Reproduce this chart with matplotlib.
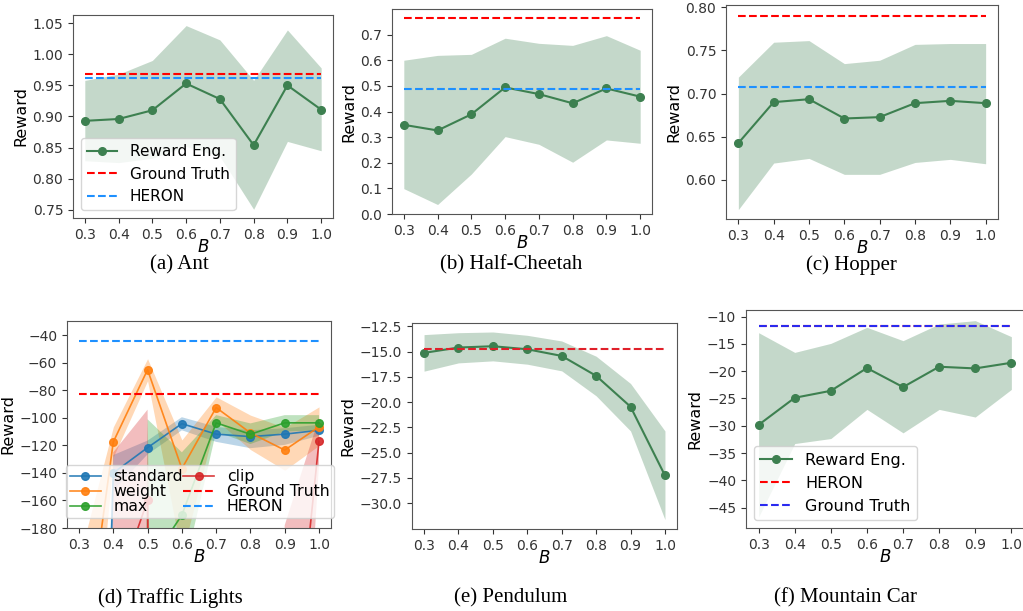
import numpy as np
import matplotlib
matplotlib.use("Agg")
import matplotlib.pyplot as plt

# x values shared by every panel
B = [0.3, 0.4, 0.5, 0.6, 0.7, 0.8, 0.9, 1.0]

# (a) Ant
ant_mean = [0.893, 0.896, 0.910, 0.953, 0.928, 0.854, 0.950, 0.911]
ant_hi = [0.958, 0.968, 0.990, 1.046, 1.023, 0.958, 1.039, 0.978]
ant_lo = [0.829, 0.826, 0.833, 0.852, 0.836, 0.751, 0.860, 0.845]
ant_gt = 0.968
ant_heron = 0.962

# (b) Half-Cheetah
hc_mean = [0.348, 0.326, 0.389, 0.494, 0.468, 0.432, 0.490, 0.458]
hc_hi = [0.600, 0.619, 0.623, 0.686, 0.666, 0.658, 0.696, 0.639]
hc_lo = [0.099, 0.037, 0.156, 0.302, 0.272, 0.202, 0.289, 0.276]
hc_gt = 0.765
hc_heron = 0.486

# (c) Hopper
hop_mean = [0.6425, 0.690, 0.6934, 0.671, 0.6726, 0.6888, 0.6915, 0.6888]
hop_hi = [0.719, 0.7595, 0.7614, 0.7347, 0.7386, 0.757, 0.758, 0.758]
hop_lo = [0.5653, 0.6193, 0.6247, 0.6062, 0.6062, 0.620, 0.6236, 0.6185]
hop_gt = 0.790
hop_heron = 0.7073

# (d) Traffic Lights
tl_names = ["standard", "weight", "max", "clip"]
tl_mean = [
    [-1000, -140.0, -121.6, -104.2, -111.8, -113.6, -111.8, -109.0],
    [-301, -117.5, -65.0, -136.9, -92.5, -110.9, -123.4, -106.5],
    [-2500, -2500, -208, -170.6, -103.6, -111.9, -103.6, -103.6],
    [-2500, -231, -160, -2500, -2500, -2500, -359, -117.0],
]
tl_hi = [
    [-800, -127, -116.5, -99.5, -106.5, -109, -107.5, -105],
    [-203, -106.6, -57, -116, -84.7, -98, -107, -92],
    [-2000, -2000, -101, -125, -98, -104, -98, -98],
    [-2000, -125, -94, -2000, -2000, -2000, -178, -100],
]
tl_lo = [
    [-1200, -153, -126.5, -109, -117.4, -122, -119.6, -113],
    [-400, -128.4, -73, -200, -101.6, -123, -138, -120],
    [-3000, -3000, -315, -218, -110, -119, -110, -109],
    [-3000, -337, -226, -3000, -3000, -3000, -540, -134],
]
tl_gt = -82.5
tl_heron = -44.0

# (e) Pendulum
pen_mean = [-15.13, -14.6, -14.47, -14.77, -15.43, -17.4, -20.46, -27.27]
pen_hi = [-13.32, -13.13, -13.06, -13.39, -13.95, -15.46, -18.16, -22.86]
pen_lo = [-16.94, -16.12, -15.92, -16.25, -16.91, -19.38, -22.86, -31.64]
pen_gt = -14.74

# (f) Mountain Car
mc_mean = [-29.83, -24.87, -23.59, -19.42, -22.91, -19.18, -19.49, -18.45]
mc_hi = [-12.94, -16.55, -14.9, -11.96, -14.4, -11.35, -10.73, -13.67]
mc_lo = [-46.7, -33.26, -32.34, -27.0, -31.3, -27.0, -28.4, -23.34]
mc_heron = -11.71
mc_gt = -11.71

GREEN = "#3d8050"
W, H = 1023, 611

fig = plt.figure(figsize=(W / 100, H / 100), dpi=100)


def add_ax(left, top, right, bottom):
    # pixel box -> figure fraction
    return fig.add_axes([left / W, 1 - bottom / H, (right - left) / W, (bottom - top) / H])


def style(ax, ylim, yticks):
    ax.set_ylim(*ylim)
    ax.set_yticks(yticks)
    ax.set_xticks(B)
    ax.tick_params(labelsize=10, colors="#333333")
    for s in ax.spines.values():
        s.set_color("#555555")
    ax.set_xlabel("$B$", fontsize=12, labelpad=-3)
    ax.set_ylabel("Reward", fontsize=11.5, labelpad=3)


def reward_eng(ax, mean, lo, hi):
    ax.fill_between(B, lo, hi, color=GREEN, alpha=0.3, lw=0)
    return ax.plot(B, mean, "-o", color=GREEN, lw=1.5, ms=5.5, label="Reward Eng.")


# (a) Ant
ax = add_ax(73, 15, 333, 218)
reward_eng(ax, ant_mean, ant_lo, ant_hi)
ax.plot(B, np.full(8, ant_gt), "--", color="red", lw=1.5, label="Ground Truth")
ax.plot(B, np.full(8, ant_heron), "--", color="dodgerblue", lw=1.5, label="HERON")
style(ax, (0.737, 1.063), np.arange(0.75, 1.051, 0.05))
ax.legend(loc="lower left", fontsize=11)

# (b) Half-Cheetah
ax = add_ax(392, 9, 652, 214)
reward_eng(ax, hc_mean, hc_lo, hc_hi)
ax.plot(B, np.full(8, hc_gt), "--", color="red", lw=1.5)
ax.plot(B, np.full(8, hc_heron), "--", color="dodgerblue", lw=1.5)
style(ax, (0.0, 0.80), np.arange(0.0, 0.71, 0.1))

# (c) Hopper
ax = add_ax(726, 5, 998, 219)
reward_eng(ax, hop_mean, hop_lo, hop_hi)
ax.plot(B, np.full(8, hop_gt), "--", color="red", lw=1.5)
ax.plot(B, np.full(8, hop_heron), "--", color="dodgerblue", lw=1.5)
style(ax, (0.5544, 0.8027), np.arange(0.60, 0.801, 0.05))

# (d) Traffic Lights
ax = add_ax(67, 321, 331, 528)
tl_colors = ["tab:blue", "tab:orange", "tab:green", "tab:red"]
for name, m, lo, hi, c in zip(tl_names, tl_mean, tl_lo, tl_hi, tl_colors):
    ax.fill_between(B, lo, hi, color=c, alpha=0.3, lw=0)
    ax.plot(B, m, "-o", color=c, lw=1.2, ms=5.5, alpha=0.9, label=name)
ax.plot(B, np.full(8, tl_gt), "--", color="red", lw=1.5, label="Ground Truth")
ax.plot(B, np.full(8, tl_heron), "--", color="dodgerblue", lw=1.5, label="HERON")
style(ax, (-180, -29.6), np.arange(-180, -39, 20))
ax.legend(ncol=2, loc="lower left", bbox_to_anchor=(-0.005, 0.048), borderaxespad=0,
          fontsize=11.3, labelspacing=0.0, columnspacing=0.0, handletextpad=0.8,
          borderpad=0.25)

# (e) Pendulum
ax = add_ax(412, 323, 677, 529)
reward_eng(ax, pen_mean, pen_lo, pen_hi)
ax.plot(B, np.full(8, pen_gt), "--", color="#e0202a", lw=1.5)
style(ax, (-32.57, -12.17), np.arange(-30, -12.4, 2.5))

# (f) Mountain Car
ax = add_ax(746, 310, 1024, 528)
reward_eng(ax, mc_mean, mc_lo, mc_hi)
ax.plot(B, np.full(8, mc_heron), "--", color="red", lw=1.5, label="HERON")
ax.plot(B, np.full(8, mc_gt), "--", color="#2a2af0", lw=1.5, label="Ground Truth")
style(ax, (-48.74, -8.78), np.arange(-45, -9, 5))
ax.legend(loc="lower left", fontsize=11.5)

# sub-captions
captions = ["(a) Ant", "(b) Half-Cheetah", "(c) Hopper",
            "(d) Traffic Lights", "(e) Pendulum", "(f) Mountain Car"]
cap_x = [179, 511, 851, 170, 511, 846]
cap_y = [265, 265, 265, 598, 598, 598]
for t, x, y in zip(captions, cap_x, cap_y):
    fig.text(x / W, 1 - y / H, t, ha="center", va="center",
             fontsize=15, family="Liberation Serif")

fig.savefig("out.png", dpi=100)
